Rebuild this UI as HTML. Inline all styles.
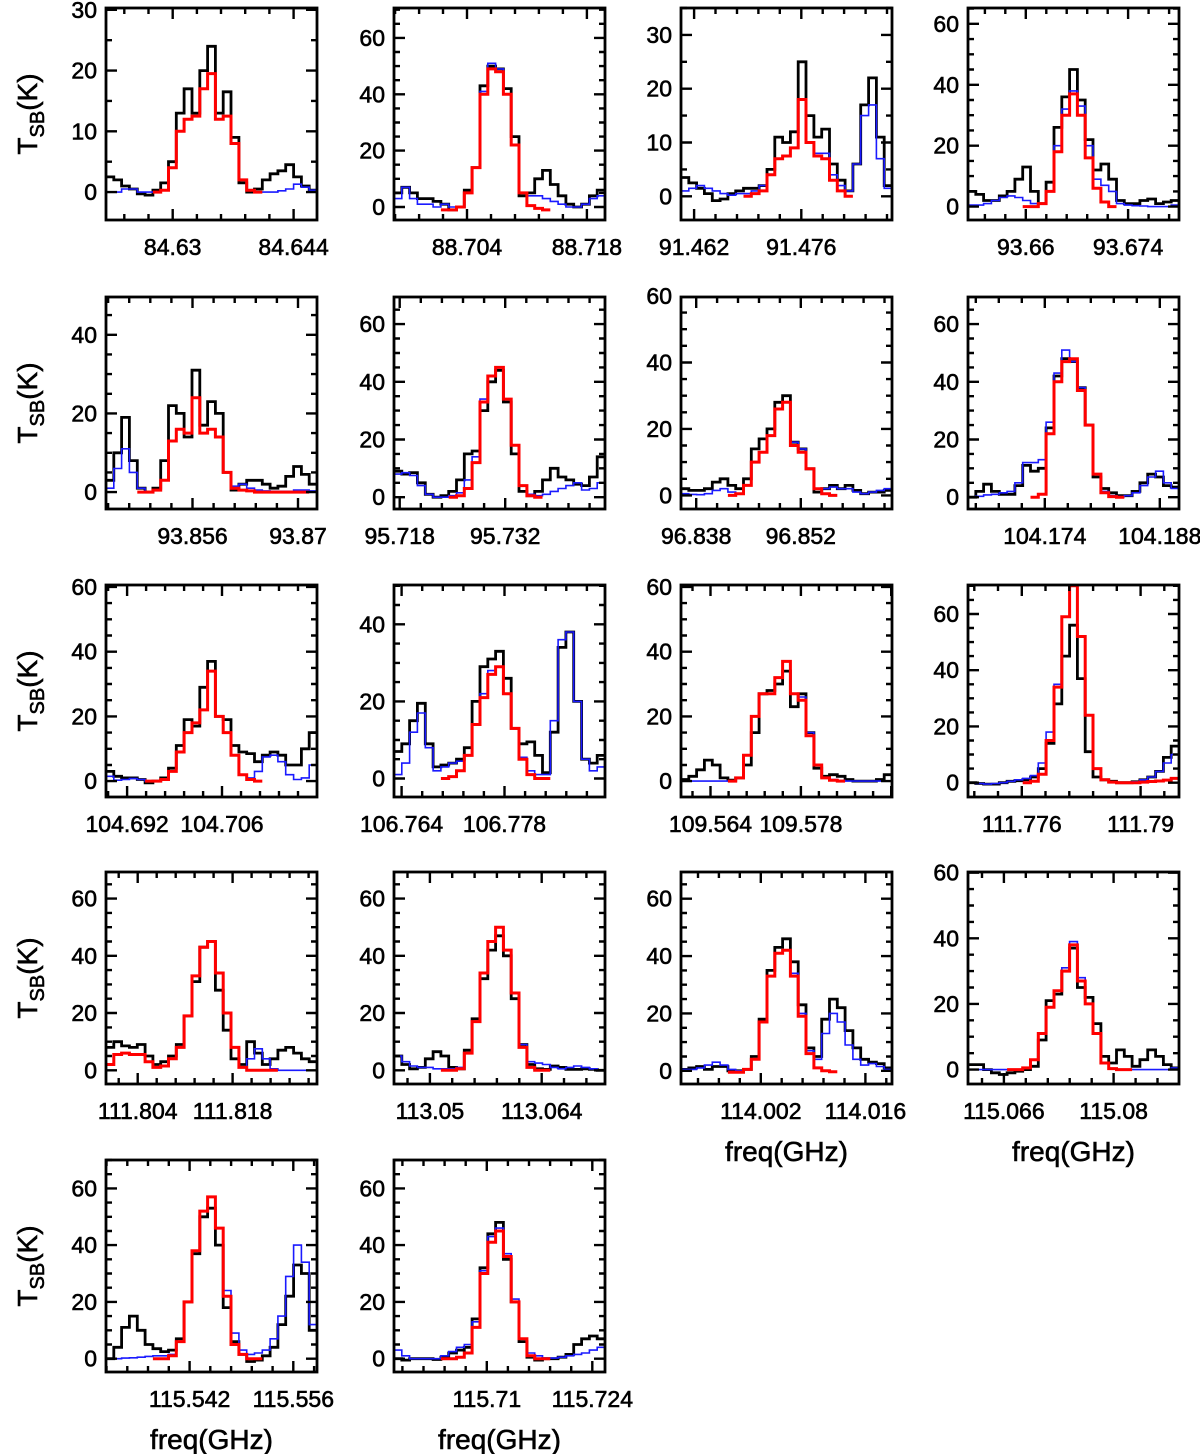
<!DOCTYPE html>
<html>
<head>
<meta charset="utf-8">
<style>
  html,body{margin:0;padding:0;background:#fff;}
  svg{display:block;}
  text{font-family:"Liberation Sans",sans-serif;fill:#000;stroke:#000;stroke-width:0.6px;}
</style>
</head>
<body>
<svg id="chart" width="1200" height="1454" viewBox="0 0 1200 1454" xmlns="http://www.w3.org/2000/svg"></svg>
<script>
// ---- data ----
const panelFreqMin = [84.62228,88.69547,91.46029,93.65209,93.84452,95.71724,96.83597,104.16465,104.68889,106.76297,109.55942,111.76966,111.79933,113.04551,113.99133,115.06142,115.53073,115.69768];
const panelFreqMax = [84.64671,88.72012,91.48785,93.68096,93.87252,95.74524,96.8642,104.19034,104.72,106.79166,109.59213,111.79453,111.83044,113.07193,114.01956,115.08834,115.55919,115.72568];
const xTickLabels = [[84.63,84.644],[88.704,88.718],[91.462,91.476],[93.66,93.674],[93.856,93.87],[95.718,95.732],[96.838,96.852],[104.174,104.188],[104.692,104.706],[106.764,106.778],[109.564,109.578],[111.776,111.79],[111.804,111.818],[113.05,113.064],[114.002,114.016],[115.066,115.08],[115.542,115.556],[115.71,115.724]];
const yMinVals = [-4.6,-4.6,-4.4,-4.4,-4.3,-4.1,-4.1,-4.1,-4.9,-4.8,-4.9,-5.1,-4.8,-4.8,-4.6,-4.4,-4.7,-4.7];
const yMaxVals = [30.3,70.6,35,65.2,49.6,69.4,59.7,69.4,60.6,50.2,60.6,70.3,69.3,69.3,69.3,60.2,70,70];
const yTickLabels = [[0,10,20,30],[0,20,40,60],[0,10,20,30],[0,20,40,60],[0,20,40],[0,20,40,60],[0,20,40,60],[0,20,40,60],[0,20,40,60],[0,20,40],[0,20,40,60],[0,20,40,60],[0,20,40,60],[0,20,40,60],[0,20,40,60],[0,20,40,60],[0,20,40,60],[0,20,40,60]];

const observed = [
 [2.5,2,1,0.5,-0.3,-0.5,0.3,1.5,5,13,17,13,20,24,13,16.5,9,1.5,0,0.5,2,3,3.5,4.5,2.5,1,0.3],
 [5,7,5,3,3,2,1,-1,0,6,14,43,50,49,42,25,4,5,10,13,8,4,1,0,1,4,6],
 [3.5,2.5,1.5,0.5,-0.8,-0.5,0.5,1,1.5,1.5,2,5,11,10,12,25,15,11,12.5,6,3,1,6,17,22,11,2],
 [5,4,2,2,3.5,5,9,13,5,1,8,26,36,45,35,22,12,14,9,2,1,1,2,2.5,1,1.5,2],
 [3,10,19,8,1,0,1,8,22,20,14,31,17,23,20,5,0.5,2,3,3,2,1,1.5,4,6.5,4.5,2],
 [9,8,8.5,5,1,0,0.5,2,6,15,16,30,40,44,33,15,2,0.5,2,6,10,7,6,4.5,4,7,14],
 [2,1.5,1.5,2,4,5,3,2,5,14,17,20,28,30,16,14,8,1,2,3,2,3,1.5,0.5,1,1,1.5],
 [0,2,4.5,2,1,1,4,11,9,10,24,42,48,47,38,25,7,3,1.5,0.5,0.5,2,5,8,7,4,3.5],
 [3,1.5,1,1,0.5,-0.5,0,1,4,11,19,17,29,37,20,19,11,9,8.5,6,8,9,8,5,5,10,15],
 [7,9,15,19.5,9,3,3.5,4,5,8,20,29,31,33,26,13,9,9.5,6,1.5,12,34,38,20,5,4,6],
 [0.5,1.5,3.5,6.5,5,1,0.3,1,5,15,27,28,30,34,23,27,15,4,1.5,2,1.5,0.5,0,0,0,0.5,2],
 [0,-0.3,-0.5,-0.5,0,0.5,0.7,1,2,5,14,28,45,56,37,11,2,1,0.5,0,0,0.3,1,2,4,9,13],
 [8,10,8.5,8,9,5,2,3,5,9,19,31,43,45,28,14,4,2,10,6,2,4,7,8,6,4,3],
 [5,2,0.5,1,4,6.5,5,1,0.5,7,18,32,42,47,40,25,9,2,0.5,0.3,1.5,1,0.3,0.3,0.5,0.3,0],
 [0.5,1,1.5,0.5,1.5,1.5,0,0,0.5,5,18,35,43,46,38,23,8,5,18,25,22,14,8,4,3,2.5,1],
 [1.5,1.5,0,-1,-1.5,-1,-0.5,0,1,9,21,23,30,37,25,22,14,4,2,6,4,1,3,6,4,1.5,0.5],
 [0,4,11,15,10,5,3.5,2.5,3,7,20,37,50,53,40,18,6,1.5,-1,-0.5,1,4,12,22,33,30,10],
 [0,-0.5,0,0,0,-0.3,0.5,2,3,4,14,32,44,48,35,20,6,0.5,-0.5,0,0,0.5,1.5,5,7,8,7]
];
const modelTotal = [
 [0,0,0.5,0.5,0,0,0,0.3,4,10,12,12.5,17,19.5,12,12.5,8,2,0.3,0,0,0,0.2,0.5,1.3,0.8,0.3],
 [3,7,3,1,1,0,1,0,0,5,14,41,51,49,40,22,5,4,4,3,2,1,0,0,1,3,4],
 [1,1.5,2,1.5,1,0.5,0.2,0.5,0.5,1,2,4,7,7.5,9,18,10,8,8,4,2,1,6,15,17,7,1.5],
 [0.5,0.5,1,2,3,3.5,3,2,1,1,5,20,32,38,33,20,9,7,5,1,0.5,0.3,0.2,0,0,0,0.5],
 [1,6,11,5,1,0,0.5,3,13,16,15,24,15,16,14,5,1.5,2,1,0.5,0.3,0.2,0.2,0.2,0.5,0.5,0.3],
 [8,8.5,7.5,4,1,0,0,0.5,1.5,6,14,34,42,45,34,18,4,1,0.5,1,2,3,4,5,2.5,3,5],
 [0.5,0.3,0.2,0.5,1.5,2,1,0.5,3,10,13,18,26,28,16,14,8,2,2,2.5,2,2,1,0.5,1,1.5,2],
 [0,0.3,0.8,1,1.5,2,5,12,12,13,26,43,51,47,38,25,8,2,0.5,0.2,0.5,1.5,4,7,9,5,3],
 [1.5,0.3,0.5,0.8,0.5,0,0,0.5,3,9,15,18,22,34,20,15,8,2,1,3,7.5,8,6,2,0.5,1,5],
 [1,4,12,17,8,2,3,4,4.5,6,14,22,28,29,22,13,5.5,2,1,1,15,36,38,20,5,2,3],
 [0,0,0,0,0,0,0,1,8,20,27,27,32,37,27,26,15,5,1,0.5,0.2,0,0,0,0,0,0],
 [0,-0.3,-0.5,-0.3,0,0.5,1,1.5,2.5,7,18,35,59,70,52,24,5,1,0.3,0,0,0.3,1,2,4,7,10],
 [2,5.5,6,5.5,5.5,3,1,1.5,4,8,19,33,43,45,34,20,8,1,4,7.5,4,0.5,0,0,0,0,0],
 [5,3,1.5,1,1,0.5,0.5,0.5,1,6,17,34,45,50,42,27,9,3,2.5,2,1,0.5,1,1.5,1,0.5,0],
 [0.5,0.5,1,2,3,2,0.5,0,0.5,4,17,33,41,42,34,20,7,4,13,20,17,9,4,2,2.5,1.5,0.5],
 [0,0,0,0,0,0,0,0.5,3,11,19,24,31,39,28,20,11,2,0.3,0,0,0,0,0,0,0,0.5],
 [0,0,0.2,0.3,0.5,0.8,1,1,1.5,6,20,38,52,57,46,24,9,3,1.5,2,3,7,15,29,40,34,12],
 [3,1,0,0,0,0,1,2.5,4,5,13,31,43,46,37,21,7,2,1,0.2,0.2,0.5,1,1.5,2,3,4]
];
const lineModelStart = [6,6,8,7,4,7,6,8,5,6,6,7,0,6,6,5,6,6];
const lineModel = [
 [0,0.3,4,10,12,12.5,17,19.5,12,12.5,8,2,0.3,0],
 [-1,-1,0,5,14,40,49,48,40,22,5,0.5,-0.5,-1],
 [0,0.5,1,4,7,7.5,9,18,10,7.5,7,3,1,0],
 [0,0,1,5,18,30,37,30,16,6,1.5,0],
 [0,0,0.5,3,13,16,15,24,15,16,14,5,1,0.5,0.3,0,0,0,0,0,0,0],
 [0,0.5,3,12,33,42,45,34,18,4,0.5,0],
 [0,0.5,3,10,13,18,26,28,15,13,8,2,0.5,0],
 [0,1,22,40,47,48,37,25,8,1.5,0.2,0],
 [0,0,0.5,3,9,15,18,22,34,20,15,8,2,0.5,0],
 [0,0.5,2,6,14,21,27,29,22,13,5,1,0,0],
 [0,1,8,20,27,27,32,37,27,25,14,5,1,0.3,0],
 [0,0.5,3,15,34,59,70,52,24,5,1,0.2,0,0,0,0.2,0.4,0.6,0.9,1.5],
 [2,5.5,6,5.5,5.5,3,1,1.5,4,8,19,33,43,45,34,20,8,1,0,0,0,0],
 [0,0,0.5,6,17,34,45,50,42,27,8,1,0,0],
 [-0.5,-0.5,0.5,4,17,33,41,42,33,19,6,1,0,-0.3],
 [0,0,0.5,3,11,19,24,30,38,27,20,11,2,0.3,0,0],
 [0,0,1,6,20,38,52,57,46,22,5,1.5,0,0],
 [0,0,0.5,2,11,30,41,45,36,20,7,1,0,0]
];

// ---- layout ----
const NS = "http://www.w3.org/2000/svg";
const svg = document.getElementById('chart');
const colX = [106,394,681,968];
const rowY = [8,297,585,872,1160];
const PW = 211, PH = 212;
const NCH = 27;
const MINOR_X = 0.0028;

function mk(tag, attrs, parent){
  const e = document.createElementNS(NS, tag);
  for (const k in attrs) e.setAttribute(k, attrs[k]);
  (parent||svg).appendChild(e);
  return e;
}

for (let k = 0; k < observed.length; k++) {
  const L = colX[k % 4], T = rowY[Math.floor(k / 4)], R = L + PW, B = T + PH;
  const f0 = panelFreqMin[k], f1 = panelFreqMax[k];
  const y0 = yMinVals[k], y1 = yMaxVals[k];
  const xs = f => L + (f - f0) / (f1 - f0) * PW;
  const ys = v => B - (v - y0) / (y1 - y0) * PH;
  const df = (f1 - f0) / NCH;
  const edge = i => f0 + i * df;

  const g = mk('g', {});
  
  

  const clip = mk('clipPath', {id: 'clip' + k}, g);
  mk('rect', {x: L, y: T, width: PW, height: PH}, clip);

  function stepPath(vals, start) {
    let d = '', prev = null;
    for (let j = 0; j < vals.length; j++) {
      const v = vals[j];
      if (v === null || v === undefined) { prev = null; continue; }
      const i = start + j;
      const xa = xs(edge(i)).toFixed(1), xb = xs(edge(i + 1)).toFixed(1), yv = ys(v).toFixed(1);
      if (prev === null) d += 'M' + xa + ' ' + yv;
      else d += 'V' + yv;
      d += 'H' + xb;
      prev = v;
    }
    return d;
  }

  const obs = mk('path', {d: stepPath(observed[k], 0), fill: 'none', stroke: '#000', 'stroke-width': 2.8, 'clip-path': 'url(#clip' + k + ')'}, g);
  
  
  const tot = mk('path', {d: stepPath(modelTotal[k], 0), fill: 'none', stroke: '#1a1aff', 'stroke-width': 1.6, 'clip-path': 'url(#clip' + k + ')'}, g);
  
  
  const lm = mk('path', {d: stepPath(lineModel[k], lineModelStart[k]), fill: 'none', stroke: '#ff0000', 'stroke-width': 3, 'clip-path': 'url(#clip' + k + ')'}, g);
  
  

  const fr = mk('rect', {x: L, y: T, width: PW, height: PH, fill: 'none', stroke: '#000', 'stroke-width': 2.8}, g);
  
  

  let td = '';
  const lab0 = xTickLabels[k][0];
  for (let n = -20; n <= 20; n++) {
    const f = lab0 + n * MINOR_X;
    if (f <= f0 || f >= f1) continue;
    const x = xs(f).toFixed(1);
    const len = (n % 5 === 0) ? 11 : 6;
    td += 'M' + x + ' ' + B + 'v' + (-len) + 'M' + x + ' ' + T + 'v' + len;
  }
  const ystep = yTickLabels[k][1] - yTickLabels[k][0];
  for (let v = 0; v <= y1; v += 5) {
    const y = ys(v).toFixed(1);
    const len = (Math.abs(v % ystep) < 1e-6) ? 11 : 6;
    td += 'M' + L + ' ' + y + 'h' + len + 'M' + R + ' ' + y + 'h' + (-len);
  }
  const tk = mk('path', {d: td, stroke: '#000', 'stroke-width': 2.4, fill: 'none'}, g);
  
  

  for (const f of xTickLabels[k]) {
    const t = mk('text', {x: xs(f).toFixed(1), y: B + 35, 'font-size': 23, 'text-anchor': 'middle'}, g);
    t.textContent = String(f);
    
    
  }
  for (const v of yTickLabels[k]) {
    const t = mk('text', {x: L - 9, y: (ys(v) + 8).toFixed(1), 'font-size': 23, 'text-anchor': 'end'}, g);
    t.textContent = String(v);
    
    
  }

  if (k % 4 === 0) {
    const cy = T + PH / 2;
    const t = mk('text', {x: 0, y: 0, 'font-size': 28, 'text-anchor': 'middle', transform: 'translate(37,' + cy + ') rotate(-90)'}, g);
    
    
    const a = mk('tspan', {}, t); a.textContent = 'T';
    const b = mk('tspan', {dy: 7, 'font-size': 20}, t); b.textContent = 'SB';
    const c = mk('tspan', {dy: -7}, t); c.textContent = '(K)';
  }
  if (k >= 14) {
    const t = mk('text', {x: L + PW / 2, y: B + 77, 'font-size': 28, 'text-anchor': 'middle'}, g);
    t.textContent = 'freq(GHz)';
    
    
  }
}
</script>
</body>
</html>
